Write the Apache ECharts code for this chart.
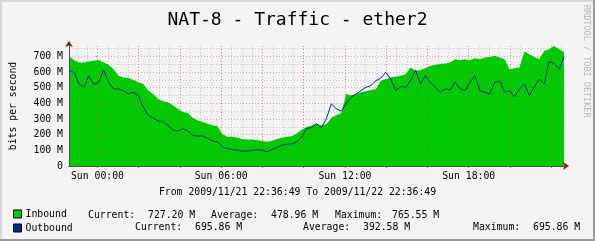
<!DOCTYPE html>
<html>
<head>
<meta charset="utf-8">
<script src="https://cdn.jsdelivr.net/npm/echarts@6/dist/echarts.min.js"></script>
<style>
html,body{margin:0;padding:0;background:#F3F3F3;}
#c{width:595px;height:241px;}
</style>
</head>
<body>
<div id="c"></div>
<script>
// ---- data (hours relative to Sun 00:00) ----
const X_MIN = -1.3803;   // 2009/11/21 22:36:49
const X_MAX = 22.6197;   // 2009/11/22 22:36:49
const TIMES = [-1.38,-1.14,-0.90,-0.66,-0.42,-0.18,0.06,0.30,0.54,0.78,1.02,1.26,1.50,1.74,1.98,2.22,2.46,2.70,2.94,3.18,3.42,3.66,3.90,4.14,4.38,4.62,4.86,5.10,5.34,5.58,5.82,6.06,6.30,6.54,6.78,7.02,7.26,7.50,7.74,7.98,8.22,8.46,8.70,8.94,9.18,9.42,9.66,9.90,10.14,10.38,10.62,10.86,11.10,11.34,11.58,11.82,12.06,12.30,12.54,12.78,13.02,13.26,13.50,13.74,13.98,14.22,14.46,14.70,14.94,15.18,15.42,15.66,15.90,16.14,16.38,16.62,16.86,17.10,17.34,17.58,17.82,18.06,18.30,18.54,18.78,19.02,19.26,19.50,19.74,19.98,20.22,20.46,20.70,20.94,21.18,21.42,21.66,21.90,22.14,22.38,22.62];
// Inbound, M bits per second
const INBOUND = [702,675,660,660,667,671,677,660,646,618,576,565,561,548,534,523,481,460,428,413,407,386,365,344,338,308,291,281,270,259,253,203,186,186,181,173,169,169,165,160,154,160,173,181,186,190,207,232,249,259,270,259,
266,308,323,338,460,449,460,470,477,485,492,544,555,565,570,576,586,629,608,612,624,639,646,650,654,660,681,675,681,675,688,681,692,696,703,692,681,618,624,629,730,713,696,681,734,745,765.55,745,727.2];
// Outbound, M bits per second
const OUTBOUND = [610,600,524,503,575,520,534,612,534,492,492,481,460,470,449,376,323,308,287,281,259,228,224,238,224,196,190,192,175,160,154,122,112,105,101,95,95,101,101,101,91,105,118,133,139,139,154,186,238,245,270,245,
302,397,365,350,397,439,460,481,502,513,544,561,597,555,481,506,502,544,612,523,576,534,502,470,492,485,534,492,481,534,576,481,470,460,534,544,470,481,439,492,523,449,502,555,523,667,654,618,695.86];

const Y_MAX = 765.55;
const Y_MAJOR = [0,100,200,300,400,500,600,700];
const Y_MINOR = [50,150,250,350,450,550,650,750];
const X_MINOR = [-1,-0.5,0,0.5,1,1.5,2,2.5,3,3.5,4,4.5,5,5.5,6,6.5,7,7.5,8,8.5,9,9.5,10,10.5,11,11.5,12,12.5,13,13.5,14,14.5,15,15.5,16,16.5,17,17.5,18,18.5,19,19.5,20,20.5,21,21.5,22,22.5];
const X_MAJOR = [0,2,4,6,8,10,12,14,16,18,20,22];
const X_LABEL_HOURS = [0,6,12,18];
const X_LABELS = ['Sun 00:00','Sun 06:00','Sun 12:00','Sun 18:00'];

const TITLE = 'NAT-8 - Traffic - ether2';
const PERIOD = 'From 2009/11/21 22:36:49 To 2009/11/22 22:36:49';
const SERIES_NAMES = ['Inbound','Outbound'];
const STAT_ROW1 = ['Current:','727.20 M','Average:','478.96 M','Maximum:','765.55 M'];
const STAT_ROW2 = ['Current:','695.86 M','Average:','392.58 M','Maximum:','695.86 M'];
const WATERMARK = 'RRDTOOL / TOBI OETIKER';

// ---- chart ----
const MONO = 'DejaVu Sans Mono';
const FS = 9.8;
const GREEN = '#00CC00';
const BLUE = '#002A97';
const ARROW = '#8B1A1A';
const AXIS = '#505050';

const chart = echarts.init(document.getElementById('c'), null, {renderer:'canvas'});

const inData = TIMES.map((t,i)=>[t, INBOUND[i]]);
const outData = TIMES.map((t,i)=>[t, OUTBOUND[i]]);

function baseX(extra){
  return Object.assign({
    type:'value', gridIndex:0, min:X_MIN, max:X_MAX, position:'bottom',
    axisLine:{show:false}, axisTick:{show:false}, axisLabel:{show:false},
    splitLine:{show:false}
  }, extra);
}
function baseY(extra){
  return Object.assign({
    type:'value', gridIndex:0, min:0, max:Y_MAX, position:'left',
    axisLine:{show:false}, axisTick:{show:false}, axisLabel:{show:false},
    splitLine:{show:false}
  }, extra);
}

const statX1 = [88,148,211,271,335,392];
const statX2 = [135,195,303,363,473,533];
const graphics = [];
// frame
graphics.push({type:'rect', shape:{x:0,y:0,width:595,height:2}, style:{fill:'#D6D6D6'}, z:100});
graphics.push({type:'rect', shape:{x:0,y:0,width:2,height:241}, style:{fill:'#D6D6D6'}, z:100});
graphics.push({type:'rect', shape:{x:593,y:0,width:2,height:241}, style:{fill:'#9C9C9C'}, z:101});
graphics.push({type:'rect', shape:{x:0,y:239,width:595,height:2}, style:{fill:'#9C9C9C'}, z:101});
STAT_ROW1.forEach((s,i)=>graphics.push({type:'text', x:statX1[i], y:215.3, style:{text:s, font:FS+'px "'+MONO+'"', fill:'#000', verticalAlign:'middle', align:'left'}}));
STAT_ROW2.forEach((s,i)=>graphics.push({type:'text', x:statX2[i], y:227.3, style:{text:s, font:FS+'px "'+MONO+'"', fill:'#000', verticalAlign:'middle', align:'left'}}));
graphics.push({type:'text', x:297.5, y:192, style:{text:PERIOD, font:FS+'px "'+MONO+'"', fill:'#000', align:'center', verticalAlign:'middle'}});
graphics.push({type:'text', x:586, y:5, rotation:-Math.PI/2, style:{text:WATERMARK, font:'8.5px "'+MONO+'"', fill:'#B8B8B8', align:'left', verticalAlign:'middle'}});

const option = {
  backgroundColor:'#F3F3F3',
  animation:false,
  title:{text:TITLE, left:'center', top:6, textStyle:{fontFamily:MONO, fontSize:18, fontWeight:'normal', color:'#000'}},
  grid:{left:64, top:46, width:500, height:120, containLabel:false},
  legend:{
    orient:'vertical', left:13, top:209, padding:0, itemGap:4, itemWidth:8, itemHeight:8,
    textStyle:{fontFamily:MONO, fontSize:FS, color:'#000', padding:[0,0,0,-1]},
    data:[
      {name:SERIES_NAMES[0], icon:'rect', itemStyle:{color:GREEN, borderColor:'#000', borderWidth:1}},
      {name:SERIES_NAMES[1], icon:'rect', itemStyle:{color:BLUE, borderColor:'#000', borderWidth:1}}
    ],
    selectedMode:false
  },
  xAxis:[
    baseX({z:3, axisTick:{show:false, customValues:X_MINOR},
      splitLine:{show:true, lineStyle:{color:'rgba(120,120,120,0.35)', width:1, type:[1,2]}}}),
    baseX({z:4, axisTick:{show:true, customValues:X_MAJOR, length:2, lineStyle:{color:'#E06060'}},
      splitLine:{show:true, lineStyle:{color:'rgba(235,40,40,0.4)', width:1, type:[1,2]}}}),
    baseX({z:6, axisLine:{show:true, onZero:false, lineStyle:{color:AXIS, width:1}},
      axisLabel:{show:true, customValues:X_LABEL_HOURS, margin:5, fontFamily:MONO, fontSize:FS, color:'#000',
        formatter:(v)=>{const i=X_LABEL_HOURS.indexOf(Math.round(v)); return i>=0?X_LABELS[i]:'';}}}),
    baseX({z:5, axisLine:{show:true, onZero:false, symbol:['none','arrow'], symbolSize:[6,6], symbolOffset:[0,5], lineStyle:{color:ARROW, width:1}}})
  ],
  yAxis:[
    baseY({z:3, axisTick:{show:false, customValues:Y_MINOR},
      splitLine:{show:true, lineStyle:{color:'rgba(120,120,120,0.35)', width:1, type:[1,2]}}}),
    baseY({z:4, axisTick:{show:true, customValues:Y_MAJOR, length:2, lineStyle:{color:'#E06060'}},
      splitLine:{show:true, lineStyle:{color:'rgba(235,40,40,0.4)', width:1, type:[1,2]}},
      axisLabel:{show:true, customValues:Y_MAJOR, margin:6, fontFamily:MONO, fontSize:FS, color:'#000',
        formatter:(v)=> v===0 ? '0' : v+' M'},
      name:'bits per second', nameLocation:'middle', nameGap:51, nameRotate:90,
      nameTextStyle:{fontFamily:MONO, fontSize:FS, color:'#000'}}),
    baseY({z:6, axisLine:{show:true, onZero:false, lineStyle:{color:AXIS, width:1}}}),
    baseY({z:5, axisLine:{show:true, onZero:false, symbol:['none','arrow'], symbolSize:[6,6], symbolOffset:[0,5], lineStyle:{color:ARROW, width:1}}})
  ],
  series:[
    {name:SERIES_NAMES[0], type:'line', xAxisIndex:0, yAxisIndex:0, data:inData, showSymbol:false, z:2,
      lineStyle:{width:0, color:GREEN}, itemStyle:{color:GREEN}, areaStyle:{color:GREEN, opacity:1}},
    {name:SERIES_NAMES[1], type:'line', xAxisIndex:0, yAxisIndex:0, data:outData, showSymbol:false, z:7,
      lineStyle:{width:1, color:BLUE}, itemStyle:{color:BLUE}}
  ],
  graphic:graphics
};
chart.setOption(option);
</script>
</body>
</html>
